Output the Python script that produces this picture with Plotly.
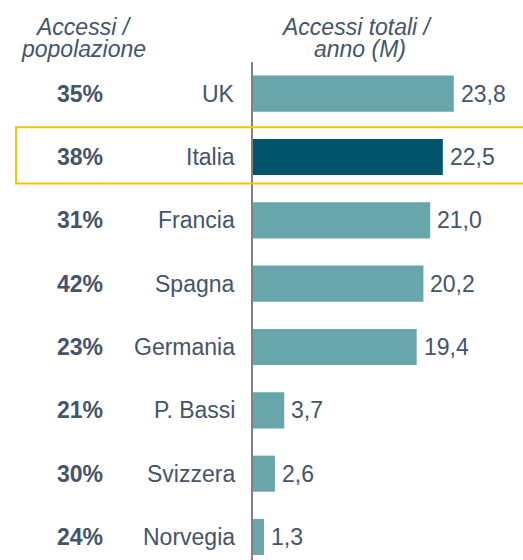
import plotly.graph_objects as go

countries = ["UK", "Italia", "Francia", "Spagna", "Germania", "P. Bassi", "Svizzera", "Norvegia"]
accessi_totali = [23.8, 22.5, 21.0, 20.2, 19.4, 3.7, 2.6, 1.3]
accessi_pop = ["35%", "38%", "31%", "42%", "23%", "21%", "30%", "24%"]
highlight = "Italia"

TEAL = "#68A6AB"
DARK = "#01546C"
TXT = "#44546A"
FONT = "Liberation Sans, Arial, sans-serif"
FS = 23

colors = [DARK if c == highlight else TEAL for c in countries]

fig = go.Figure()
fig.add_trace(go.Bar(
    x=accessi_totali, y=countries, orientation="h",
    marker=dict(color=colors, line=dict(width=0)),
    width=0.57, hoverinfo="skip",
))

ann = []
for c, v, p in zip(countries, accessi_totali, accessi_pop):
    ann.append(dict(x=v, y=c, xref="x", yref="y", text=f"{v:.1f}".replace(".", ","),
                    showarrow=False, xanchor="left", xshift=5,
                    font=dict(family=FONT, size=FS, color=TXT)))
    ann.append(dict(x=0, y=c, xref="paper", yref="y", text=c,
                    showarrow=False, xanchor="right", xshift=-16,
                    font=dict(family=FONT, size=FS, color=TXT)))
    ann.append(dict(x=-0.641, y=c, xref="paper", yref="y", text=f"<b>{p}</b>",
                    showarrow=False, xanchor="center",
                    font=dict(family=FONT, size=FS, color=TXT)))

# title rows, in paper units above the plot area (plot height 498 px)
titles = [
    ("<i>Accessi /</i>", -0.626, 1 + (62 - 26.5) / 498),
    ("<i>popolazione</i>", -0.626, 1 + (62 - 49.5) / 498),
    ("<i>Accessi totali /</i>", 0.387, 1 + (62 - 26.5) / 498),
    ("<i>anno (M)</i>", 0.396, 1 + (62 - 49.5) / 498),
]
for t, x, y in titles:
    ann.append(dict(x=x, y=y, xref="paper", yref="paper", text=t, showarrow=False,
                    xanchor="center", yanchor="middle",
                    font=dict(family=FONT, size=FS, color=TXT)))

fig.update_layout(
    width=523, height=560,
    margin=dict(l=253, r=0, t=62, b=0),
    paper_bgcolor="white", plot_bgcolor="white",
    showlegend=False,
    xaxis=dict(range=[0, 32], visible=False, fixedrange=True),
    yaxis=dict(categoryorder="array", categoryarray=countries,
               range=[7.363, -0.5], showticklabels=False, ticks="",
               showgrid=False, zeroline=False,
               showline=True, linecolor="#808080", linewidth=2),
    annotations=ann,
    shapes=[dict(type="rect", xref="paper", yref="y",
                 x0=-0.878, x1=1.02, y0=0.53, y1=1.42,
                 line=dict(color="#FFC000", width=2), fillcolor="rgba(0,0,0,0)")],
)

fig.write_html("out.html", config={"displayModeBar": False},
               post_script="document.body.style.margin='0';document.body.style.overflow='hidden';")
